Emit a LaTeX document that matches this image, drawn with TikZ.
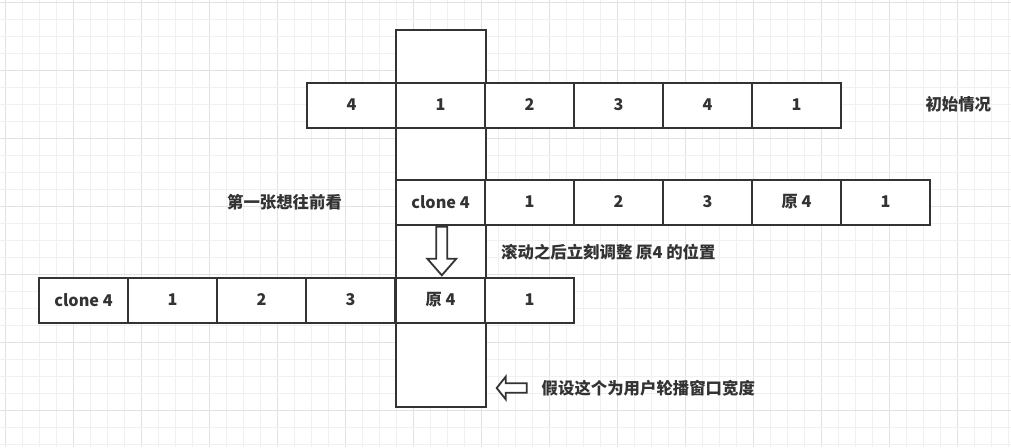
\documentclass[tikz,border=0pt]{standalone}
\usepackage{fontspec}
\setmainfont{Noto Sans CJK SC}
\definecolor{ink}{HTML}{333333}
\definecolor{gminor}{HTML}{F0F0F0}
\definecolor{gmajor}{HTML}{E2E2E2}
\tikzset{
  cell/.style={draw=ink, fill=white, line width=2pt, minimum width=89pt, minimum height=45pt, inner sep=0pt, text=ink, font=\bfseries\fontsize{16.2}{19}\selectfont},
  lbl/.style={text=ink, inner sep=0pt, font=\bfseries\fontsize{16.4}{19}\selectfont},
  hollow/.style={draw=ink, fill=white, line width=1.8pt, line join=miter},
}
\begin{document}
\begin{tikzpicture}[x=1pt,y=-1pt]
\useasboundingbox (0,0) rectangle (1011,447);
\fill[white] (0,0) rectangle (1011,447);
% grid
\foreach \k in {0,...,59} {
  \pgfmathsetmacro{\gx}{5+17*\k}
  \pgfmathtruncatemacro{\m}{mod(\k,4)}
  \ifnum\m=0
    \draw[gmajor, line width=1pt] (\gx,0) -- (\gx,447);
  \else
    \draw[gminor, line width=1pt] (\gx,0) -- (\gx,447);
  \fi
}
\foreach \k in {0,...,26} {
  \pgfmathsetmacro{\gy}{2.3+17*\k}
  \pgfmathtruncatemacro{\m}{mod(\k,4)}
  \ifnum\m=0
    \draw[gmajor, line width=1pt] (0,\gy) -- (1011,\gy);
  \else
    \draw[gminor, line width=1pt] (0,\gy) -- (1011,\gy);
  \fi
}
% window
\node[draw=ink, fill=white, line width=2pt, minimum width=89.7pt, minimum height=377.6pt, inner sep=0pt] (win) at (440.85,218.5) {};
% row 1
\node[cell] (a1) at (351.5,105) {4};
\node[cell] (a2) at (440.5,105) {1};
\node[cell] (a3) at (529.5,105) {2};
\node[cell] (a4) at (618.5,105) {3};
\node[cell] (a5) at (707.5,105) {4};
\node[cell] (a6) at (796.5,105) {1};
% row 2
\node[cell] (b1) at (440.5,202) {clone 4};
\node[cell] (b2) at (529.5,202) {1};
\node[cell] (b3) at (618.5,202) {2};
\node[cell] (b4) at (707.5,202) {3};
\node[cell] (b5) at (796.5,202) {原 4};
\node[cell] (b6) at (885.5,202) {1};
% row 3
\node[cell] (c1) at (83.5,300) {clone 4};
\node[cell] (c2) at (172.5,300) {1};
\node[cell] (c3) at (261.5,300) {2};
\node[cell] (c4) at (350.5,300) {3};
\node[cell] (c5) at (440.5,300) {原 4};
\node[cell] (c6) at (529.5,300) {1};
% arrows
\draw[hollow] (436.3,226.7) -- (447.3,226.7) -- (447.3,258.7) -- (456.3,258.7) -- (441.8,275.3) -- (427.3,258.7) -- (436.3,258.7) -- cycle;
\draw[hollow] (526.7,383.3) -- (505.7,383.3) -- (505.7,376.7) -- (496.7,388) -- (505.7,399.3) -- (505.7,392.7) -- (526.7,392.7) -- cycle;
% labels
\node[lbl] (t1) at (958.3,104) {初始情况};
\node[lbl] (t2) at (284.5,202) {第一张想往前看};
\node[lbl, anchor=west] (t3) at (501,252) {滚动之后立刻调整 原4 的位置};
\node[lbl, anchor=west] (t4) at (541.5,388) {假设这个为用户轮播窗口宽度};
\end{tikzpicture}
\end{document}
